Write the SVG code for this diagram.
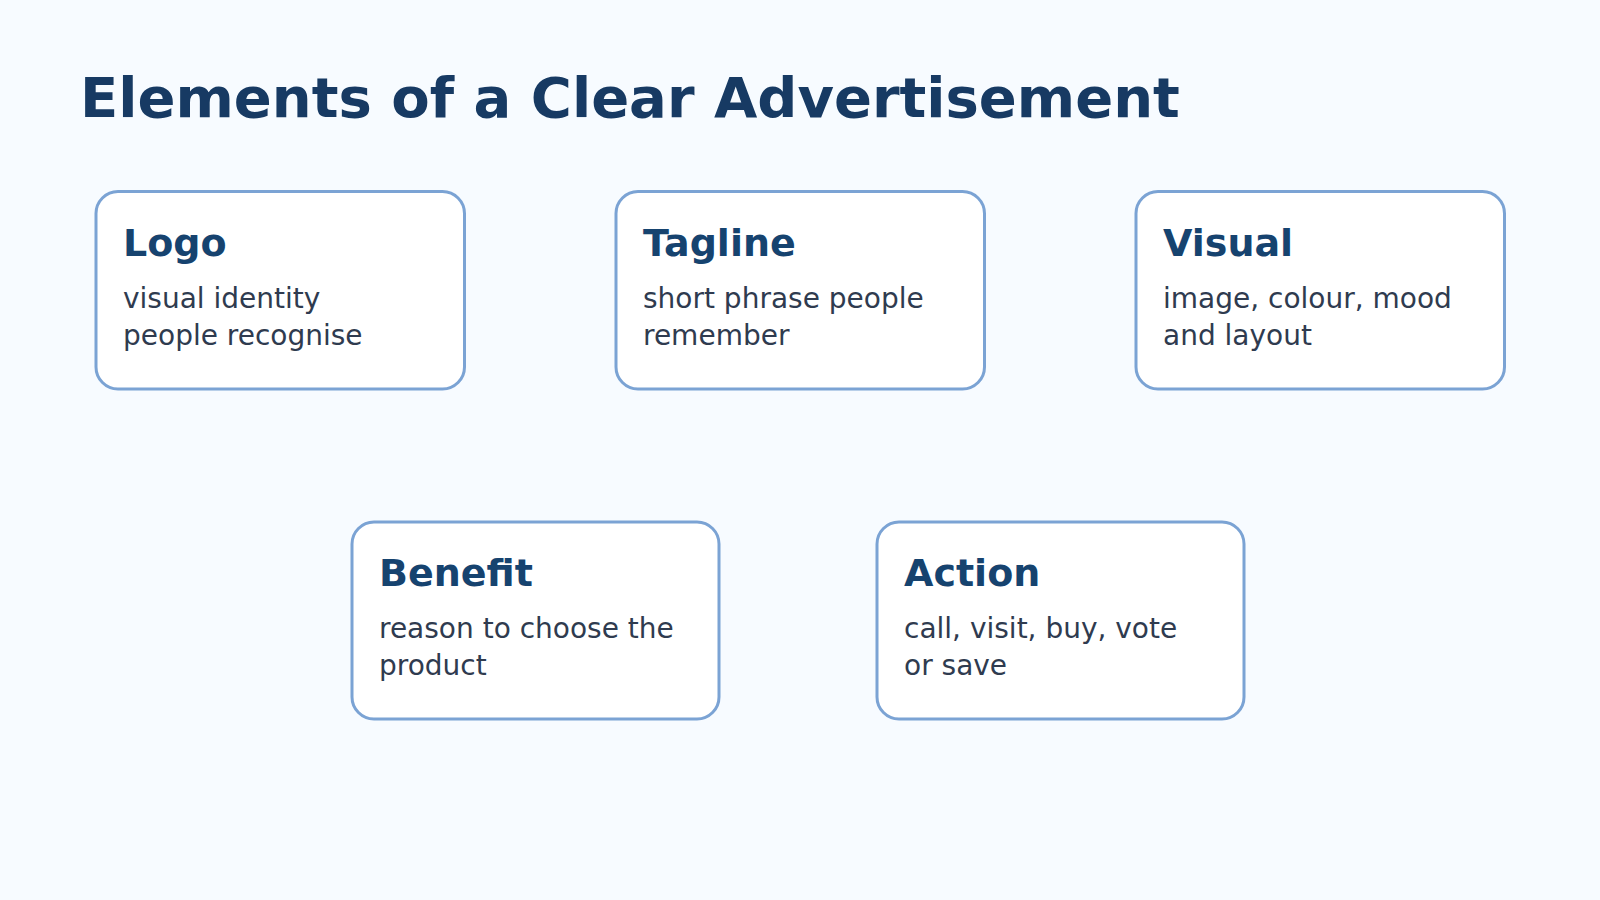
<svg xmlns="http://www.w3.org/2000/svg" width="1600" height="900" viewBox="0 0 1600 900">
  <style>
    .bg { fill: #f7fbff; }
    .title { font-family: "DejaVu Sans", sans-serif; font-weight: bold; font-size: 56px; fill: #173a63; }
    .card { fill: #ffffff; stroke: #7ba3d4; stroke-width: 3; }
    .head { font-family: "DejaVu Sans", sans-serif; font-weight: bold; font-size: 38px; fill: #16436f; }
    .body { font-family: "DejaVu Sans", sans-serif; font-size: 28px; fill: #2f3b4f; }
  </style>
  <rect class="bg" x="0" y="0" width="1600" height="900"/>
  <text class="title" x="80" y="117">Elements of a Clear Advertisement</text>

  <g id="connectors"></g>

  <g id="node-logo">
    <rect class="card" x="96" y="191.5" width="368.5" height="197.5" rx="22"/>
    <text class="head" x="123" y="256">Logo</text>
    <text class="body" x="123" y="308">visual identity</text>
    <text class="body" x="123" y="344.5">people recognise</text>
  </g>
  <g id="node-tagline">
    <rect class="card" x="616" y="191.5" width="368.5" height="197.5" rx="22"/>
    <text class="head" x="643" y="256">Tagline</text>
    <text class="body" x="643" y="308">short phrase people</text>
    <text class="body" x="643" y="344.5">remember</text>
  </g>
  <g id="node-visual">
    <rect class="card" x="1136" y="191.5" width="368.5" height="197.5" rx="22"/>
    <text class="head" x="1163" y="256">Visual</text>
    <text class="body" x="1163" y="308">image, colour, mood</text>
    <text class="body" x="1163" y="344.5">and layout</text>
  </g>
  <g id="node-benefit">
    <rect class="card" x="352" y="522" width="367" height="197" rx="22"/>
    <text class="head" x="379" y="586">Benefit</text>
    <text class="body" x="379" y="638">reason to choose the</text>
    <text class="body" x="379" y="674.5">product</text>
  </g>
  <g id="node-action">
    <rect class="card" x="877" y="522" width="367" height="197" rx="22"/>
    <text class="head" x="904" y="586">Action</text>
    <text class="body" x="904" y="638">call, visit, buy, vote</text>
    <text class="body" x="904" y="674.5">or save</text>
  </g>
</svg>
